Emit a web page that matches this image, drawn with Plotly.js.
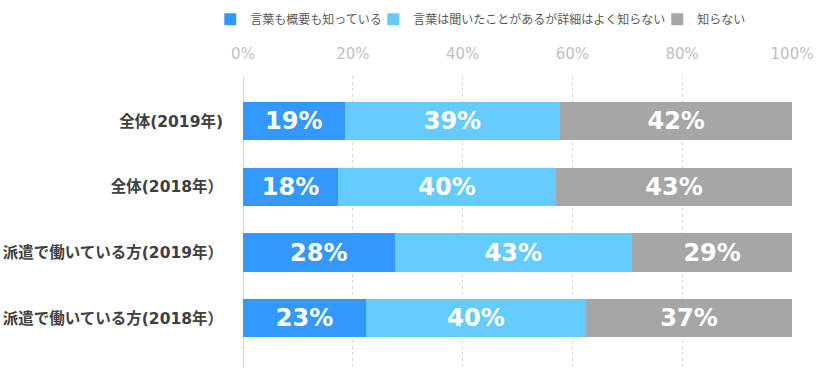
<!DOCTYPE html>
<html>
<head>
<meta charset="utf-8">
<script src="https://cdn.plot.ly/plotly-3.0.1.min.js"></script>
<style>html,body{margin:0;padding:0;background:#fff;}#chart{width:819px;height:373px;}</style>
</head>
<body>
<div id="chart"></div>
<script>
const categories = ['全体(2019年)', '全体(2018年）', '派遣で働いている方(2019年）', '派遣で働いている方(2018年）'];
const seriesNames = ['言葉も概要も知っている', '言葉は聞いたことがあるが詳細はよく知らない', '知らない'];
const knowBoth = [18.5, 17.3, 27.6, 22.4];
const heardOnly = [39.3, 39.7, 43.3, 40.1];
const dontKnow = [42.2, 43.0, 29.1, 37.5];
const knowBothLabels = ['19%', '18%', '28%', '23%'];
const heardOnlyLabels = ['39%', '40%', '43%', '40%'];
const dontKnowLabels = ['42%', '43%', '29%', '37%'];
const tickVals = [0, 20, 40, 60, 80, 100];
const tickText = ['0%', '20%', '40%', '60%', '80%', '100%'];

const colors = ['#3399ff', '#66ccff', '#a6a6a6'];
const latin = '"DejaVu Sans", "Noto Sans CJK JP", sans-serif';
const cjk = '"Noto Sans CJK JP", sans-serif';

function mk(name, vals, labels, color, legendId) {
  return {
    type: 'bar', orientation: 'h', name: name, legend: legendId,
    y: categories, x: vals, text: labels,
    textposition: 'inside', insidetextanchor: 'middle', constraintext: 'none',
    textfont: {family: latin, size: 24, color: '#ffffff', weight: 'bold'},
    marker: {color: color, line: {width: 0}},
    hoverinfo: 'skip'
  };
}

const data = [
  mk(seriesNames[0], knowBoth, knowBothLabels, colors[0], 'legend'),
  mk(seriesNames[1], heardOnly, heardOnlyLabels, colors[1], 'legend2'),
  mk(seriesNames[2], dontKnow, dontKnowLabels, colors[2], 'legend3')
];

// plot area: left 243px, width 549px; top 70px, height 298px
function legendAt(px) {
  return {
    orientation: 'h', x: (px - 242.7) / 549, xanchor: 'left',
    y: (368 - 12) / 298, yanchor: 'middle',
    font: {family: cjk, size: 12, color: '#595959'},
    itemwidth: 30, bgcolor: 'rgba(0,0,0,0)'
  };
}

const layout = {
  width: 819, height: 373,
  margin: {l: 243, r: 27, t: 70, b: 5, pad: 0},
  paper_bgcolor: '#ffffff', plot_bgcolor: '#ffffff',
  barmode: 'stack', bargap: 0.418,
  showlegend: true,
  legend: legendAt(210),
  legend2: legendAt(373),
  legend3: legendAt(657),
  xaxis: {
    side: 'top', range: [0, 100], tickvals: tickVals, ticktext: tickText,
    showgrid: true, gridcolor: '#d9d9d9', griddash: 'dot', gridwidth: 1,
    zeroline: true, zerolinecolor: '#d9d9d9', zerolinewidth: 1,
    showline: false, ticks: '',
    tickfont: {family: latin, size: 15, color: '#c0c0c0'},
    ticklabelstandoff: 13, fixedrange: true
  },
  yaxis: {
    type: 'category', categoryorder: 'array', categoryarray: categories,
    range: [3.758, -0.690],
    showgrid: false, zeroline: false, showline: false, ticks: '',
    tickfont: {family: latin, size: 15.5, color: '#404040', weight: 'bold'},
    ticklabelstandoff: 19, fixedrange: true
  }
};

Plotly.newPlot('chart', data, layout, {displayModeBar: false, staticPlot: true});
</script>
</body>
</html>
